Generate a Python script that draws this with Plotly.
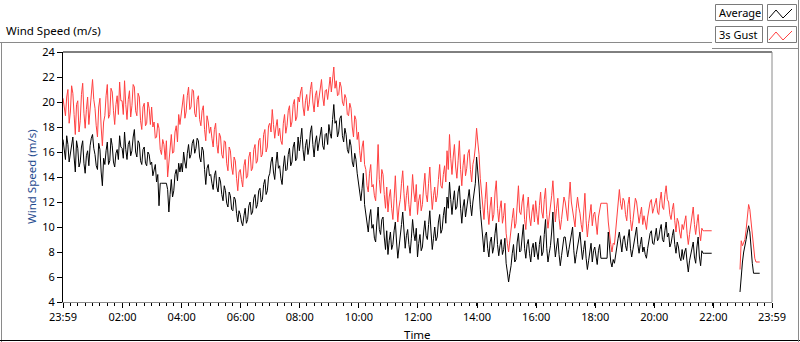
import pandas as pd
import plotly.graph_objects as go

# ---------------- data (2.5-minute samples) ----------------
start_time = "2016-01-01 23:59"
end_time = "2016-01-02 23:59"

avg_values = [
    # 23:59
    17.0, 16.1, 15.4, 17.3, 16.6, 15.2, 15.9, 16.8, 17.2, 15.6, 14.4, 16.9, 16.3, 14.8, 15.2, 16.4, 16.9, 15.1, 14.3, 15.7, 16.1, 14.9, 16.5, 17.1,
    # 00:59
    17.4, 16.3, 15.8, 14.9, 14.6, 16.7, 16.2, 14.4, 13.3, 15.5, 15.0, 16.1, 16.8, 15.0, 15.3, 17.1, 16.5, 15.2, 14.8, 15.9, 16.2, 15.4, 17.3, 16.4,
    # 01:59
    16.3, 15.5, 17.6, 16.2, 15.4, 16.6, 16.9, 15.7, 16.1, 17.2, 17.8, 16.0, 15.6, 16.9, 16.7, 15.3, 15.0, 16.2, 16.4, 15.1, 14.9, 16.0, 15.8, 15.0,
    # 02:59
    15.2, 14.1, 14.6, 15.0, 13.6, 14.2, 11.7, 13.5, 13.5, 13.5, 13.5, 13.5, 13.5, 13.0, 11.2, 12.6, 13.8, 12.4, 12.9, 14.2, 14.6, 13.7, 15.1, 14.4,
    # 03:59
    15.1, 14.4, 16.0, 15.2, 14.7, 15.9, 16.6, 15.5, 15.8, 16.7, 17.0, 15.9, 16.3, 17.1, 16.9, 15.6, 15.2, 16.4, 16.1, 14.6, 13.4, 14.7, 15.0, 14.1,
    # 04:59
    14.2, 13.5, 13.0, 14.1, 14.5, 13.2, 12.8, 14.0, 13.6, 12.6, 12.1, 13.3, 12.9, 11.9, 11.6, 12.8, 12.5, 11.4, 11.3, 12.4, 12.2, 11.1, 10.4, 11.3,
    # 05:59
    11.0, 10.4, 10.1, 10.9, 11.5, 10.3, 10.6, 11.7, 12.0, 11.0, 11.2, 12.3, 12.6, 11.5, 11.8, 12.9, 13.1, 12.0, 12.2, 13.4, 13.8, 12.6, 12.9, 14.0,
    # 06:59
    14.3, 15.2, 15.6, 14.4, 13.8, 15.1, 16.0, 14.7, 14.9, 13.9, 13.4, 14.8, 15.7, 14.5, 14.6, 15.8, 16.3, 14.9, 15.2, 16.4, 16.8, 15.3, 15.5, 17.2,
    # 07:59
    16.1, 17.0, 17.9, 16.2, 15.3, 16.5, 17.0, 15.8, 16.4, 17.6, 18.1, 16.6, 15.6, 16.8, 17.3, 16.1, 16.8, 17.7, 18.0, 16.5, 16.2, 17.4, 17.5, 16.6,
    # 08:59
    18.2, 17.5, 17.1, 18.6, 19.8, 18.3, 18.5, 17.2, 17.6, 18.7, 18.9, 17.3, 16.8, 17.9, 17.4, 16.2, 15.9, 17.0, 16.5, 15.2, 14.8, 15.9, 15.4, 14.3,
    # 09:59
    13.4, 12.6, 12.1, 13.1, 14.3, 11.8, 11.0, 10.1, 9.6, 10.8, 11.4, 9.9, 10.2, 9.1, 8.8, 10.4, 11.6, 9.8, 9.4, 10.6, 10.8, 9.2, 8.2, 9.7,
    # 10:59
    7.8, 8.9, 9.6, 8.2, 8.6, 9.7, 10.4, 8.8, 7.5, 8.4, 9.1, 10.2, 11.2, 9.4, 8.3, 9.3, 9.8, 8.6, 7.9, 9.1, 10.6, 9.5, 8.9, 9.9,
    # 11:59
    7.6, 8.7, 9.4, 8.1, 8.4, 9.6, 10.5, 9.3, 9.0, 10.2, 11.3, 9.6, 8.2, 9.1, 10.0, 8.9, 9.2, 10.4, 11.0, 9.5, 9.8, 10.9, 11.6, 10.3,
    # 12:59
    12.4, 11.5, 13.6, 12.2, 11.0, 12.1, 12.9, 11.4, 11.6, 12.8, 13.3, 11.5, 10.3, 11.6, 12.2, 10.8, 11.5, 12.6, 13.0, 11.8, 10.9, 12.0, 12.6, 13.5,
    # 13:59
    15.6, 14.6, 13.2, 11.4, 10.1, 8.9, 8.0, 9.3, 9.6, 8.3, 7.6, 8.8, 9.2, 7.9, 8.4, 9.5, 10.3, 8.6, 7.7, 8.5, 9.0, 7.8, 8.2, 9.1,
    # 14:59
    7.1, 6.4, 5.6, 6.3, 6.9, 7.9, 8.6, 7.2, 7.4, 8.8, 9.5, 8.0, 8.1, 9.2, 10.2, 8.3, 7.5, 8.6, 9.0, 7.9, 7.2, 8.3, 8.7, 7.6,
    # 15:59
    8.8, 8.0, 7.4, 8.6, 9.3, 7.7, 8.0, 9.4, 10.6, 8.3, 7.2, 7.9, 8.5, 9.6, 11.2, 8.8, 7.6, 8.4, 9.1, 7.8, 6.9, 7.7, 8.4, 9.2,
    # 16:59
    9.2, 8.3, 7.6, 8.2, 8.8, 9.5, 10.0, 8.1, 7.1, 7.8, 8.3, 9.0, 9.6, 8.4, 7.4, 8.2, 8.9, 7.5, 6.6, 7.3, 8.0, 8.7, 7.2, 8.1,
    # 17:59
    8.4, 7.6, 7.0, 8.1, 8.6, 7.5, 7.5, 7.5, 7.5, 7.5, 7.5, 9.6, 8.2, 7.2, 6.8, 7.4, 7.1, 7.9, 8.3, 9.1, 9.6, 8.6, 8.0, 9.0,
    # 18:59
    9.3, 8.5, 8.1, 9.1, 9.8, 8.3, 7.6, 8.2, 8.7, 9.4, 10.0, 8.6, 7.9, 8.6, 9.2, 8.0, 8.4, 7.8, 7.5, 8.3, 8.9, 9.5, 9.7, 8.7,
    # 19:59
    8.6, 9.4, 9.9, 8.9, 9.1, 9.8, 10.2, 9.0, 8.8, 9.7, 10.4, 9.2, 9.5, 8.4, 8.7, 9.3, 9.8, 8.6, 7.9, 8.8, 8.4, 7.6, 7.3, 8.2,
    # 20:59
    7.4, 8.0, 8.3, 7.2, 6.4, 7.3, 7.9, 8.5, 8.8, 7.6, 7.1, 8.4, 9.2, 7.6, 6.9, 8.1, 7.9, 7.9, 7.9, 7.9, 7.9, 7.9, 7.9, 7.9,
    # 21:59 - 22:51 no data
    None, None, None, None, None, None, None, None, None, None, None,
    None, None, None, None, None, None, None, None, None, None, None,
    # 22:54
    4.8, 6.4, 7.2, 8.0, 8.4, 9.0, 9.6, 10.1, 9.6, 8.2, 7.1, 6.3, 6.3, 6.3, 6.3, 6.3, 6.3,
]

gust_values = [
    # 23:59
    20.3, 19.5, 18.9, 20.4, 21.0, 18.3, 19.2, 21.3, 20.7, 19.0, 17.4, 19.8, 20.1, 17.6, 18.5, 20.6, 21.5, 19.1, 17.9, 19.4, 20.4, 18.2, 19.6, 21.1,
    # 00:59
    21.8, 20.2, 19.5, 18.1, 17.2, 19.6, 20.3, 18.0, 16.5, 18.4, 18.9, 20.5, 21.4, 18.7, 19.0, 21.1, 20.8, 19.3, 18.2, 19.8, 20.5, 19.0, 21.6, 20.1,
    # 01:59
    20.1, 19.0, 21.7, 19.8, 18.6, 20.2, 20.9, 18.8, 19.7, 21.4, 21.2, 19.3, 18.9, 20.7, 20.4, 18.5, 17.8, 19.6, 19.9, 18.1, 18.3, 20.0, 19.5, 18.2,
    # 02:59
    19.6, 18.0, 18.4, 17.1, 17.2, 18.3, 17.9, 16.2, 15.8, 17.0, 16.6, 15.4, 16.9, 14.0, 15.1, 16.3, 17.4, 15.9, 16.0, 17.6, 18.1, 16.8, 19.0, 18.2,
    # 03:59
    18.9, 19.8, 20.6, 18.7, 19.2, 20.5, 21.2, 19.4, 19.6, 21.0, 20.9, 19.1, 18.8, 20.2, 20.5, 18.6, 18.1, 19.3, 19.7, 17.8, 16.9, 18.9, 18.4, 17.5,
    # 04:59
    18.0, 17.1, 16.4, 17.8, 18.3, 16.6, 15.9, 17.5, 17.2, 15.8, 15.5, 16.9, 16.8, 15.1, 14.5, 16.4, 16.1, 14.8, 14.2, 15.6, 15.3, 13.9, 12.9, 14.4,
    # 05:59
    14.6, 13.8, 13.2, 14.9, 15.4, 13.9, 14.1, 15.6, 16.0, 14.5, 14.7, 16.2, 16.6, 15.1, 15.3, 16.9, 17.1, 15.6, 15.8, 17.4, 17.8, 16.0, 16.4, 18.1,
    # 06:59
    18.3, 17.6, 19.4, 18.2, 17.1, 18.0, 18.6, 17.3, 17.9, 16.9, 16.6, 18.3, 19.0, 17.5, 18.1, 19.3, 19.7, 18.0, 18.4, 19.8, 20.2, 18.5, 18.8, 20.4,
    # 07:59
    20.0, 20.8, 21.2, 19.6, 18.9, 20.1, 20.6, 19.3, 19.8, 21.0, 21.6, 20.0, 19.2, 20.5, 20.9, 19.6, 20.3, 21.4, 21.8, 20.4, 19.7, 20.9, 21.0, 20.2,
    # 08:59
    21.3, 22.0, 20.8, 21.9, 22.8, 21.1, 21.7, 20.5, 20.6, 21.6, 21.2, 20.0, 19.7, 20.6, 20.3, 19.0, 18.9, 19.9, 19.5, 18.0, 17.2, 18.9, 18.6, 17.0,
    # 09:59
    17.6, 16.1, 15.2, 16.4, 16.9, 15.0, 14.6, 13.3, 12.8, 14.3, 15.0, 13.2, 13.4, 12.5, 12.1, 14.0, 16.6, 13.8, 12.7, 14.6, 14.2, 12.6, 11.5, 13.2,
    # 10:59
    11.2, 12.4, 13.0, 11.5, 10.6, 12.3, 14.1, 12.0, 10.4, 11.6, 12.2, 13.5, 14.5, 12.7, 11.3, 12.5, 13.3, 11.8, 10.9, 12.4, 14.2, 12.8, 12.0, 13.4,
    # 11:59
    11.0, 12.1, 12.6, 11.3, 11.8, 13.2, 14.3, 12.6, 12.0, 13.5, 14.8, 12.9, 11.4, 12.5, 13.2, 12.0, 12.5, 13.8, 15.0, 13.3, 13.1, 14.2, 14.9, 13.6,
    # 12:59
    16.1, 14.6, 17.4, 15.5, 14.2, 15.6, 16.6, 14.8, 13.9, 15.3, 16.9, 14.6, 13.3, 14.9, 15.8, 14.1, 14.7, 15.9, 16.2, 14.6, 13.6, 15.0, 15.5, 16.4,
    # 13:59
    17.9, 16.8, 15.8, 13.9, 12.7, 11.4, 10.6, 12.2, 13.6, 11.3, 10.2, 11.6, 12.4, 10.5, 11.0, 12.8, 13.7, 11.5, 10.4, 11.5, 12.1, 10.3, 10.9, 11.9,
    # 14:59
    9.5, 8.7, 8.0, 8.9, 9.6, 10.7, 11.5, 9.9, 10.3, 12.1, 13.3, 11.2, 11.0, 12.0, 12.6, 10.6, 9.8, 11.5, 12.4, 10.8, 10.1, 11.2, 11.8, 10.4,
    # 15:59
    12.1, 11.0, 10.2, 11.7, 12.8, 11.2, 10.7, 12.2, 13.1, 11.0, 9.9, 10.8, 11.6, 12.5, 13.7, 11.6, 10.4, 11.5, 12.3, 10.7, 9.8, 10.6, 11.5, 12.4,
    # 16:59
    12.0, 11.1, 10.5, 12.2, 13.6, 12.0, 11.3, 10.4, 10.0, 11.5, 12.4, 11.6, 11.1, 10.2, 9.6, 11.2, 12.7, 10.5, 9.2, 10.3, 11.0, 11.8, 10.1, 11.0,
    # 17:59
    11.2, 10.1, 9.4, 10.8, 11.5, 11.9, 11.9, 11.9, 11.9, 11.9, 11.9, 10.4, 9.3, 8.6, 8.0, 8.7, 8.6, 9.8, 10.9, 11.8, 13.0, 11.9, 11.4, 12.3,
    # 18:59
    12.1, 11.0, 10.5, 11.8, 12.4, 10.6, 9.7, 10.5, 11.2, 12.3, 12.0, 10.9, 10.3, 11.0, 11.6, 10.2, 10.9, 10.4, 9.8, 10.8, 11.4, 12.0, 12.2, 11.1,
    # 19:59
    11.5, 12.0, 12.3, 11.2, 11.0, 12.1, 12.8, 11.6, 11.4, 12.6, 13.3, 12.2, 12.0, 11.0, 10.6, 11.4, 11.9, 10.5, 9.6, 10.7, 10.4, 9.6, 9.1, 10.2,
    # 20:59
    9.8, 10.4, 10.9, 9.5, 8.6, 9.4, 10.1, 11.0, 11.6, 10.2, 9.4, 10.3, 11.0, 9.6, 8.9, 9.9, 9.7, 9.7, 9.7, 9.7, 9.7, 9.7, 9.7, 9.7,
    # 21:59 - 22:51 no data
    None, None, None, None, None, None, None, None, None, None, None,
    None, None, None, None, None, None, None, None, None, None, None,
    # 22:54
    6.6, 8.9, 8.5, 8.7, 9.0, 9.8, 10.6, 11.8, 11.4, 10.4, 9.6, 8.2, 7.5, 7.2, 7.2, 7.2, 7.2,
]

y_ticks = [4, 6, 8, 10, 12, 14, 16, 18, 20, 22, 24]
x_tick_times = ["2016-01-01 23:59", "2016-01-02 02:00", "2016-01-02 04:00",
                "2016-01-02 06:00", "2016-01-02 08:00", "2016-01-02 10:00",
                "2016-01-02 12:00", "2016-01-02 14:00", "2016-01-02 16:00",
                "2016-01-02 18:00", "2016-01-02 20:00", "2016-01-02 22:00",
                "2016-01-02 23:59"]
x_tick_labels = ["23:59", "02:00", "04:00", "06:00", "08:00", "10:00", "12:00",
                 "14:00", "16:00", "18:00", "20:00", "22:00", "23:59"]

times = pd.date_range(start_time, periods=len(avg_values), freq="150s")
minor_times = pd.date_range(start_time, end_time, freq="15min")

# ---------------- layout helpers (pixel -> paper) ----------------
W, H = 800, 342
L, R, T, B = 63, 772, 52, 302
def px(x):
    return (x - L) / (R - L)
def py(y):
    return (B - y) / (B - T)

FONT = "Noto Sans"
RED = "#FF4040"

fig = go.Figure()
fig.add_trace(go.Scatter(x=times, y=gust_values, mode="lines", name="3s Gust",
                         line=dict(color=RED, width=1), hoverinfo="skip"))
fig.add_trace(go.Scatter(x=times, y=avg_values, mode="lines", name="Average",
                         line=dict(color="#000000", width=1), hoverinfo="skip"))

fig.update_layout(
    template="none",
    width=W, height=H,
    margin=dict(l=L, r=W - R, t=T, b=H - B, pad=0, autoexpand=False),
    paper_bgcolor="white", plot_bgcolor="white",
    showlegend=False,
    font=dict(family=FONT, size=11, color="#000000"),
)
fig.update_xaxes(
    type="date", range=[start_time, end_time], automargin=False,
    tickmode="array", tickvals=x_tick_times, ticktext=x_tick_labels,
    ticks="outside", ticklen=5, tickcolor="#000000", tickwidth=1,
    minor=dict(tickmode="array", tickvals=list(minor_times), ticks="outside",
               ticklen=3, tickcolor="#000000", tickwidth=1, showgrid=False),
    showgrid=False, zeroline=False,
    showline=True, linecolor="#8a8a8a", linewidth=1,
    tickfont=dict(family=FONT, size=11, color="#000000"),
)
fig.update_yaxes(
    range=[4, 24], tickmode="array", tickvals=y_ticks, automargin=False,
    ticks="outside", ticklen=5, tickcolor="#000000", tickwidth=1,
    showgrid=False, zeroline=False,
    showline=True, linecolor="#000000", linewidth=1,
    tickfont=dict(family=FONT, size=11, color="#000000"),
)

shapes = []
def line(x0, y0, x1, y1, color, width=1):
    shapes.append(dict(type="line", xref="paper", yref="paper",
                       x0=px(x0), y0=py(y0), x1=px(x1), y1=py(y1),
                       line=dict(color=color, width=width), layer="above"))
def rect(x0, y0, x1, y1, color, fill="white"):
    shapes.append(dict(type="rect", xref="paper", yref="paper",
                       x0=px(x0), y0=py(y0), x1=px(x1), y1=py(y1),
                       line=dict(color=color, width=1), fillcolor=fill, layer="above"))

# plot-area frame
line(L, T, R, T, "#000000")
line(R, T, R, B, "#8a8a8a")
# outer frame
line(0, 42.5, 712, 42.5, "#8a8a8a")
line(1.5, 42.5, 1.5, 342, "#8a8a8a")
line(0, 340.5, 800, 340.5, "#000000")
line(798.5, 0, 798.5, 342, "#8a8a8a")
line(712, 48.5, 799, 48.5, "#8a8a8a")

# legend boxes
rect(715.5, 4.5, 762.5, 20.5, "#7a7a7a")
rect(767.5, 4.5, 796.5, 20.5, "#7a7a7a")
rect(715.5, 26.5, 762.5, 42.5, "#7a7a7a")
rect(767.5, 26.5, 796.5, 42.5, "#7a7a7a")

def zig(y_off, color):
    pts = [(769, 18 + y_off), (776, 10 + y_off), (783, 18 + y_off), (792, 9 + y_off)]
    path = "M " + " L ".join(f"{px(a)},{py(b)}" for a, b in pts)
    shapes.append(dict(type="path", xref="paper", yref="paper", path=path,
                       line=dict(color=color, width=1), layer="above"))
zig(0, "#000000")
zig(22, RED)

annotations = [
    dict(text="Wind Speed (m/s)", x=px(4), y=py(31), xref="paper", yref="paper",
         xanchor="left", yanchor="middle", showarrow=False,
         font=dict(family=FONT, size=11.5, color="#000000")),
    dict(text="Wind Speed (m/s)", x=px(31), y=0.5, xref="paper", yref="paper",
         xanchor="center", yanchor="middle", textangle=-90, showarrow=False,
         font=dict(family=FONT, size=11.5, color="#1f4a8f")),
    dict(text="Time", x=0.5, y=py(334), xref="paper", yref="paper",
         xanchor="center", yanchor="middle", showarrow=False,
         font=dict(family=FONT, size=11.5, color="#000000")),
    dict(text="Average", x=px(717), y=py(12.5), xref="paper", yref="paper",
         xanchor="left", yanchor="middle", showarrow=False,
         font=dict(family=FONT, size=11, color="#000000")),
    dict(text="3s Gust", x=px(717), y=py(34.5), xref="paper", yref="paper",
         xanchor="left", yanchor="middle", showarrow=False,
         font=dict(family=FONT, size=11, color="#000000")),
]
fig.update_layout(shapes=shapes, annotations=annotations)

fig.write_html("out.html", config={"displayModeBar": False},
               post_script="document.body.style.margin='0px';")
